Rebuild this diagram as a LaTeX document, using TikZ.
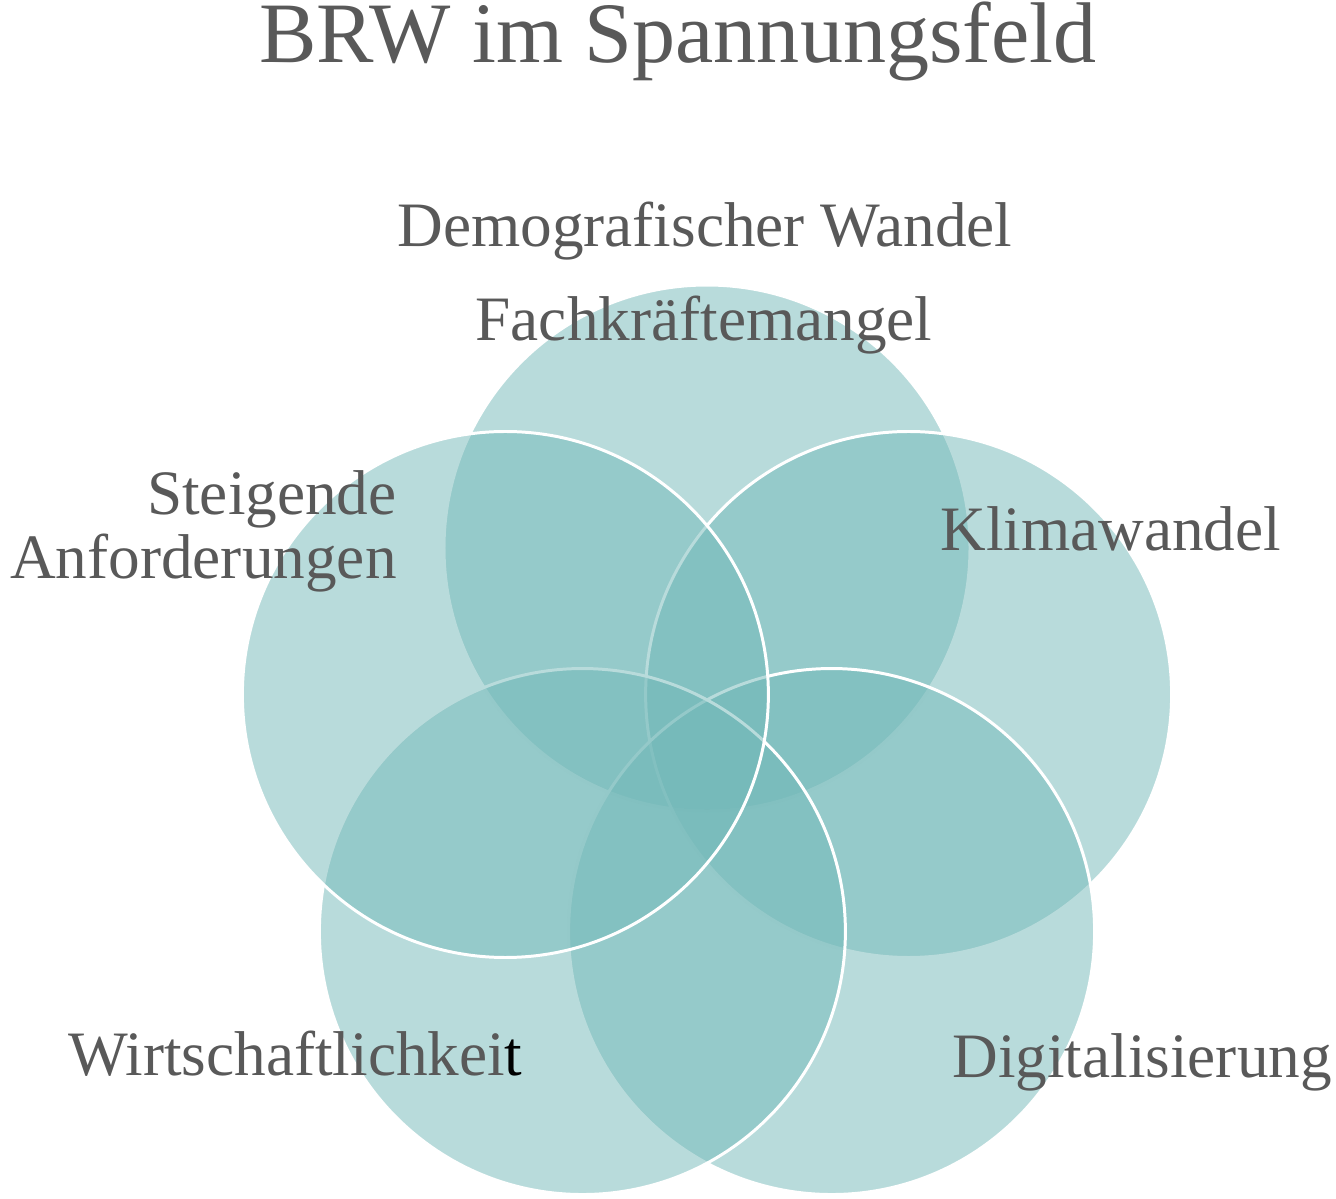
\documentclass[tikz,border=0pt]{standalone}
\usepackage{fontspec}
\setmainfont{Liberation Serif}

\begin{document}
\begin{tikzpicture}[
  fieldtext/.style={text=LabelColor, inner sep=0pt, font=\fontsize{36}{36}\selectfont}
]

% Define Colors
\definecolor{CircleColor}{HTML}{72B8B8}
\definecolor{LabelColor}{HTML}{595959}

\useasboundingbox (0,0) rectangle (26.72,-23.98);

% Five overlapping circles on a pentagon, drawn clockwise from the top
% Pentagon centre at (14.14,-15.20), 4.24cm out to each circle centre
\begin{scope}[shift={(14.14,-15.20)}]
  \foreach \angle/\name in {90/demo, 18/klima, -54/digital, -126/wirtschaft, 162/steigend} {
    \draw[white, line width=1.7pt, fill=CircleColor, fill opacity=0.5]
      (\angle:4.24) coordinate (\name) circle (5.26cm);
  }
\end{scope}

% Title
\node[text=LabelColor, inner sep=0pt, anchor=base, font=\fontsize{49}{59}\selectfont]
  (title) at (13.56,-1.24) {BRW im Spannungsfeld};

% Labels round the circles
\node[fieldtext, anchor=base] (demografie) at (14.10,-4.92) {Demografischer Wandel};
\node[fieldtext, anchor=base] (fachkraefte) at (14.08,-6.80) {Fachkräftemangel};
% base anchor of a two-line node sits on its last line
\node[fieldtext, anchor=base east, align=right] (anforderungen) at (7.94,-11.56) {Steigende\\Anforderungen};
\node[fieldtext, anchor=base west] (klimawandel) at (18.80,-11.00) {Klimawandel};
\node[fieldtext, anchor=base west] (wirtschaftlichkeit) at (1.36,-21.50) {Wirtschaftlichkei\textcolor{black}{t}};
\node[fieldtext, anchor=base west] (digitalisierung) at (19.04,-21.54) {Digitalisierung};

\end{tikzpicture}
\end{document}
